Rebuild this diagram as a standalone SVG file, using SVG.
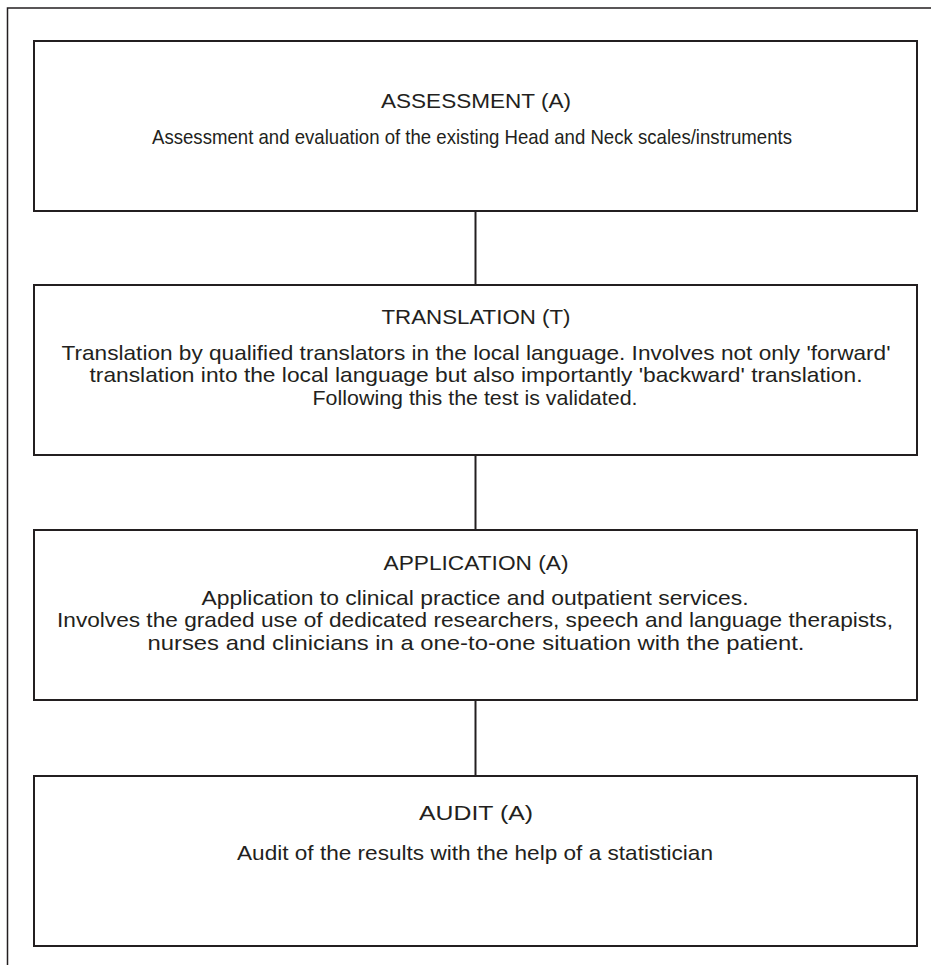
<svg xmlns="http://www.w3.org/2000/svg" width="931" height="965" viewBox="0 0 931 965">
<style>
.box{fill:#fff;stroke:#231f20;stroke-width:2}
.frame{fill:none;stroke:#231f20;stroke-width:1.5}
.conn{stroke:#231f20;stroke-width:2;fill:none}
text{font-family:"Liberation Sans",Arial,sans-serif;font-size:21px;fill:#231f20;text-anchor:middle}
</style>
<rect width="931" height="965" fill="#fff"/>
<path class="frame" d="M7.5,965 V8 H931"/>
<g id="connectors">
<line class="conn" x1="475.5" y1="211" x2="475.5" y2="285"/>
<line class="conn" x1="475.5" y1="455" x2="475.5" y2="530"/>
<line class="conn" x1="475.5" y1="700" x2="475.5" y2="776"/>
</g>
<g id="assessment">
<rect class="box" x="34" y="41" width="883" height="170"/>
<text x="476" y="107.7" textLength="190" lengthAdjust="spacingAndGlyphs">ASSESSMENT (A)</text>
<text x="472" y="144" textLength="640" lengthAdjust="spacingAndGlyphs">Assessment and evaluation of the existing Head and Neck scales/instruments</text>
</g>
<g id="translation">
<rect class="box" x="34" y="285" width="883" height="170"/>
<text x="476" y="323.5" textLength="189" lengthAdjust="spacingAndGlyphs">TRANSLATION (T)</text>
<text x="476" y="359.5" textLength="829" lengthAdjust="spacingAndGlyphs">Translation by qualified translators in the local language. Involves not only 'forward'</text>
<text x="476" y="382" textLength="773" lengthAdjust="spacingAndGlyphs">translation into the local language but also importantly 'backward' translation.</text>
<text x="475" y="404.5" textLength="325" lengthAdjust="spacingAndGlyphs">Following this the test is validated.</text>
</g>
<g id="application">
<rect class="box" x="34" y="530" width="883" height="170"/>
<text x="476" y="569.5" textLength="185" lengthAdjust="spacingAndGlyphs">APPLICATION (A)</text>
<text x="475" y="604.5" textLength="547" lengthAdjust="spacingAndGlyphs">Application to clinical practice and outpatient services.</text>
<text x="475" y="627" textLength="836" lengthAdjust="spacingAndGlyphs">Involves the graded use of dedicated researchers, speech and language therapists,</text>
<text x="476" y="649.5" textLength="657" lengthAdjust="spacingAndGlyphs">nurses and clinicians in a one-to-one situation with the patient.</text>
</g>
<g id="audit">
<rect class="box" x="34" y="776" width="883" height="170"/>
<text x="476" y="819.5" textLength="114" lengthAdjust="spacingAndGlyphs">AUDIT (A)</text>
<text x="475" y="859.5" textLength="476" lengthAdjust="spacingAndGlyphs">Audit of the results with the help of a statistician</text>
</g>
</svg>
